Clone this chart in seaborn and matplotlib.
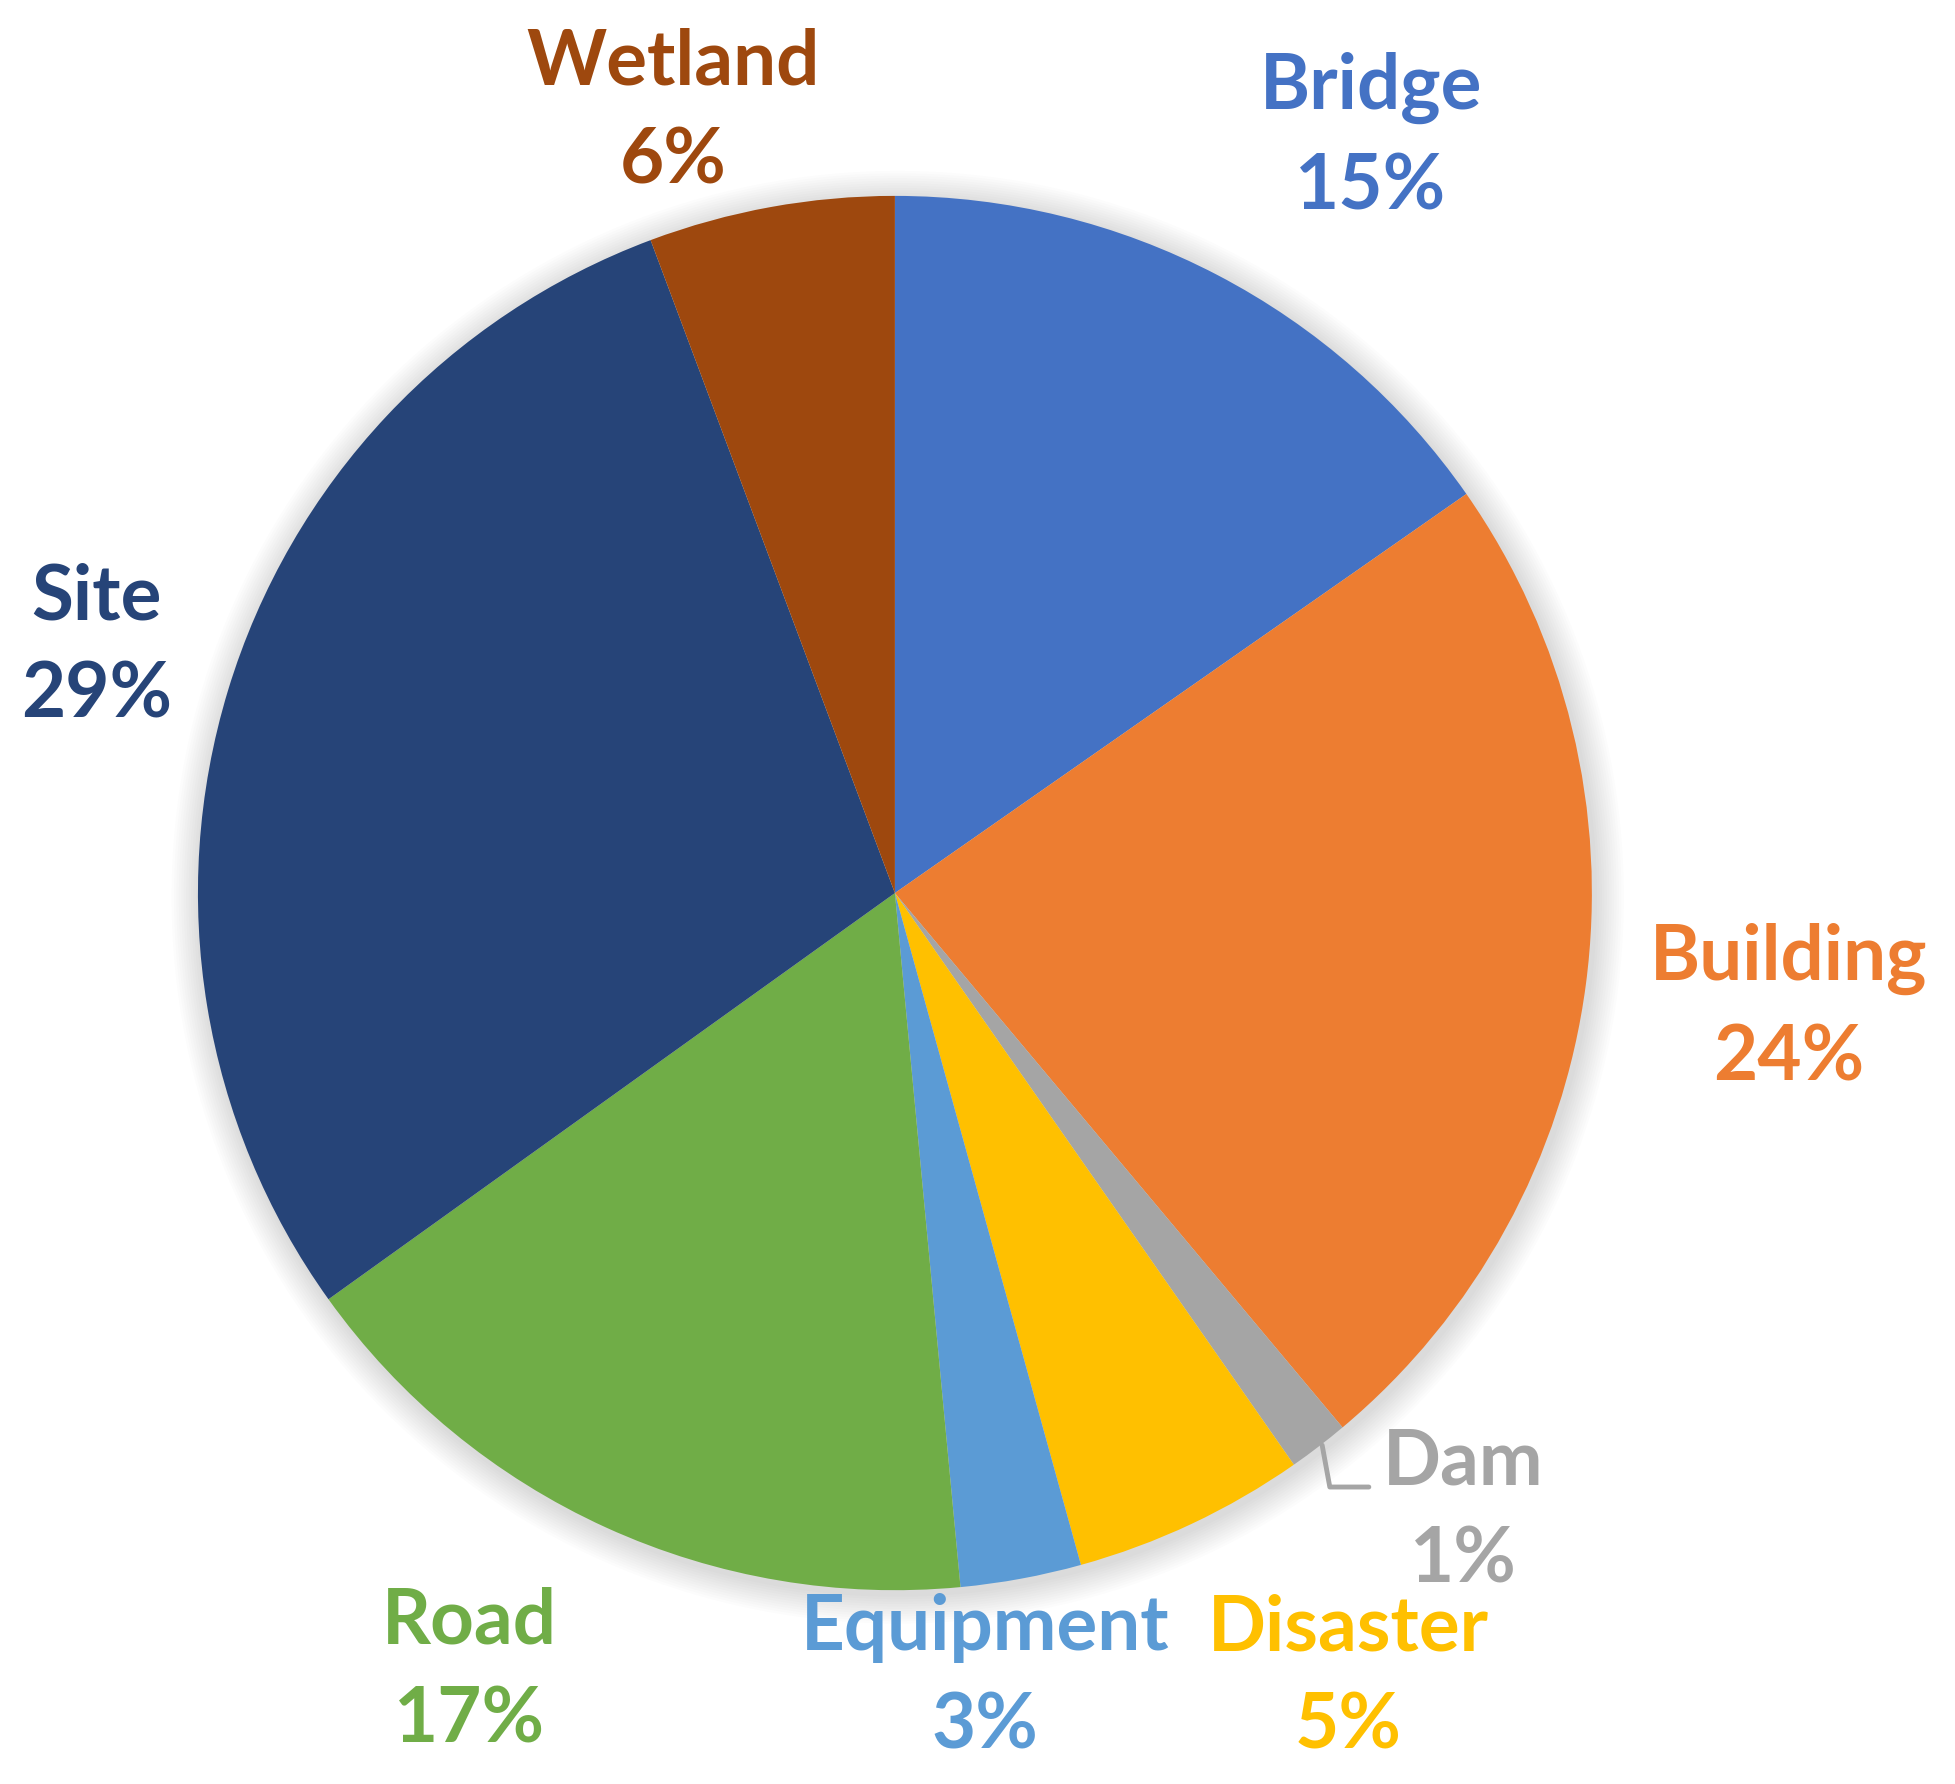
import matplotlib.pyplot as plt
import matplotlib.patches as mpatches
import seaborn as sns
import numpy as np

# shares (labels show the rounded numbers)
categories = ["Bridge", "Building", "Dam", "Disaster", "Equipment", "Road", "Site", "Wetland"]
shares = [15.3, 23.6, 1.4, 5.4, 2.8, 16.6, 29.2, 5.7]
colors = ["#4472C4", "#ED7D31", "#A5A5A5", "#FFC000", "#5B9BD5", "#70AD47", "#264478", "#9E480E"]

# where Excel put each label (pie radius = 1)
label_pos = [(0.683, 1.084), (1.283, -0.165), (0.816, -0.887), (0.651, -1.125),
             (0.129, -1.125), (-0.610, -1.116), (-1.145, 0.354), (-0.318, 1.120)]

sns.set_style("white")
plt.rcParams['font.family'] = ['Lato', 'DejaVu Sans']

fig = plt.figure(figsize=(19.55, 17.84), dpi=100)
ax = fig.add_axes([0, 0, 1, 1])

# soft shadow round the pie
for i in range(12):
    ax.add_patch(mpatches.Circle((0.004, -0.006), 1.0 + 0.0035 * (i + 1), color="black",
                                 alpha=0.012, lw=0, zorder=0))

wedges, _ = ax.pie(shares, colors=colors, startangle=90, counterclock=False,
                   radius=1, center=(0, 0), wedgeprops=dict(linewidth=0))
for w in wedges:
    w.set_zorder(2)

for name, val, col, (x, y) in zip(categories, shares, colors, label_pos):
    ax.text(x, y, f"{name}\n{round(val):.0f}%", color=col, fontsize=55, fontweight="bold",
            ha="center", va="center", linespacing=1.5, zorder=3)

# leader line for the small Dam slice
ax.plot([0.613, 0.624, 0.680], [-0.792, -0.852, -0.852], color="#A5A5A5", lw=3.5, zorder=3)

ax.set_xlim(-1.284, 1.521)
ax.set_ylim(-1.278, 1.281)
ax.set_aspect("auto")
ax.axis("off")

fig.savefig("out.png", dpi=100)
